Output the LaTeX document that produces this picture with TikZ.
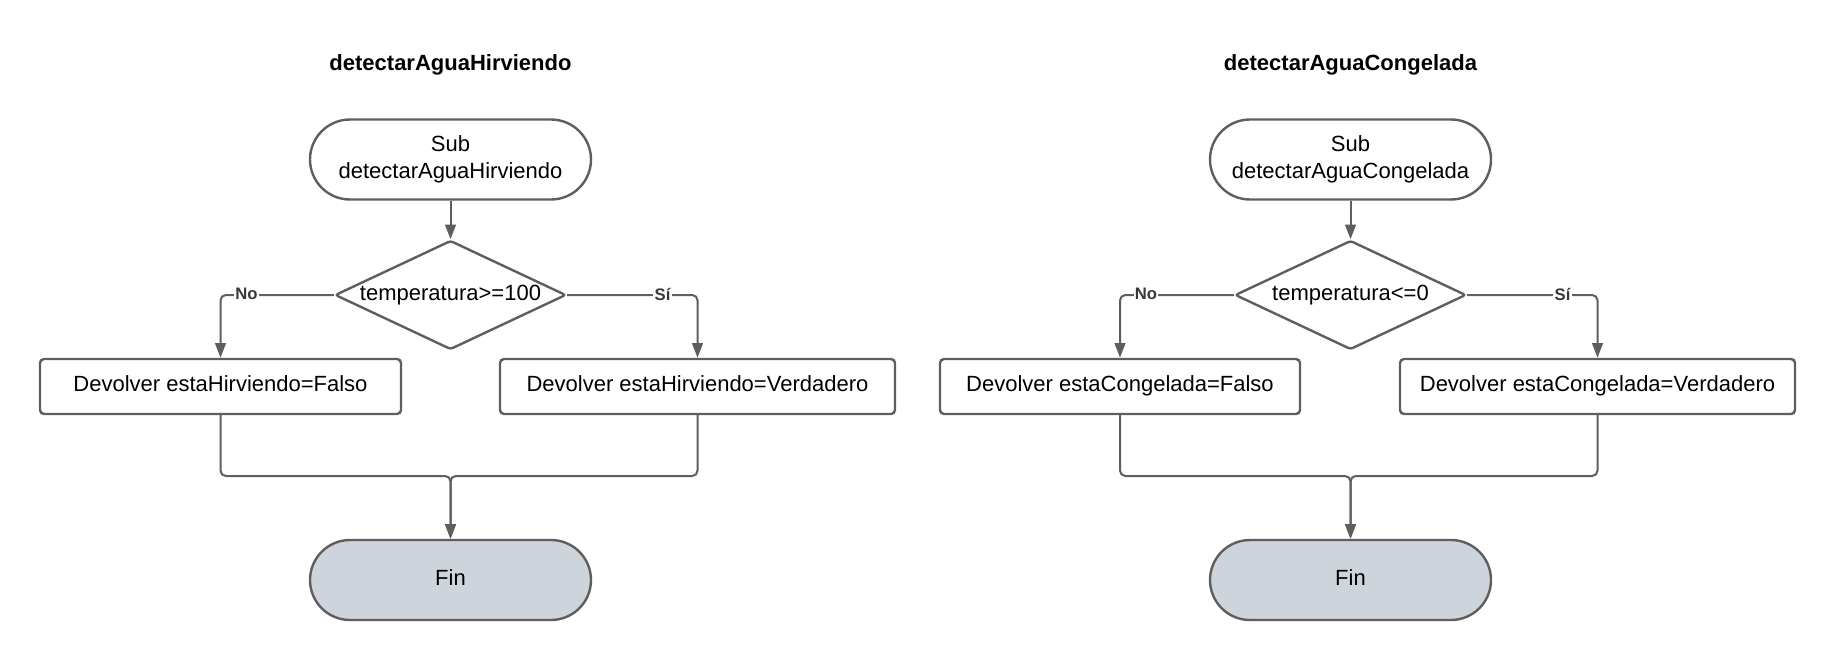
\documentclass[tikz,border=0pt]{standalone}
\usepackage{fontspec}
\setmainfont{Liberation Sans}
\usetikzlibrary{shapes.geometric,arrows.meta,calc}
\definecolor{stroke}{HTML}{5E5E5E}
\definecolor{finfill}{HTML}{CED4DB}
\begin{document}
\begin{tikzpicture}[x=0.75pt,y=-0.75pt,
  every node/.style={font=\fontsize{16.5}{20}\selectfont, text=black},
  title/.style={font=\fontsize{16.5}{20}\selectfont\bfseries},
  term/.style={draw=stroke, line width=1.8pt, rectangle, rounded corners=30pt,
    minimum width=281*0.75pt, minimum height=80*0.75pt, align=center, inner sep=0pt},
  endterm/.style={term, fill=finfill, text depth=4pt},
  decision/.style={draw=stroke, line width=1.8pt, diamond, aspect=2.1, inner sep=0pt,
    minimum width=231*0.75pt, minimum height=109*0.75pt, rounded corners=2pt},
  process/.style={draw=stroke, line width=1.8pt, rectangle, rounded corners=3pt,
    minimum height=55*0.75pt, inner sep=0pt, text depth=4pt},
  conn/.style={draw=stroke, line width=1.5pt, rounded corners=4pt,
    -{Triangle[length=11pt,width=8pt]}},
  lbl/.style={font=\fontsize{12.5}{14}\selectfont\bfseries, fill=white,
    inner sep=1pt, text=stroke!60!black}
]
\useasboundingbox (0,0) rectangle (1835,660);

% ---------- detectarAguaHirviendo ----------
\node[title] (tA) at (450.5,65) {detectarAguaHirviendo};
\node[term] (sA) at (450.5,159.5) {Sub\\detectarAguaHirviendo};
\node[decision] (dA) at (450.5,295) {temperatura>=100};
\node[process, minimum width=361*0.75pt] (fA) at (220.5,386.5) {Devolver estaHirviendo=Falso};
\node[process, minimum width=395*0.75pt] (vA) at (697.5,386.5) {Devolver estaHirviendo=Verdadero};
\node[endterm] (eA) at (450.5,580) {Fin};
\coordinate (jA) at (450.5,476);

\draw[conn] (sA.south) -- (dA.north);
\draw[conn] (dA.west) -| (fA.north);
\draw[conn] (dA.east) -| (vA.north);
\draw[conn] (fA.south) |- (jA) -- (eA.north);
\draw[conn] (vA.south) |- (jA) -- (eA.north);
\node[lbl] (nA) at ($(fA.north |- dA.west)+(26,-1)$) {No};
\node[lbl] (yA) at ($(vA.north |- dA.west)+(-35,-1)$) {Sí};

% ---------- detectarAguaCongelada ----------
\node[title] (tB) at (1350.5,65) {detectarAguaCongelada};
\node[term] (sB) at (1350.5,159.5) {Sub\\detectarAguaCongelada};
\node[decision] (dB) at (1350.5,295) {temperatura<=0};
\node[process, minimum width=360*0.75pt] (fB) at (1120,386.5) {Devolver estaCongelada=Falso};
\node[process, minimum width=395*0.75pt] (vB) at (1597.5,386.5) {Devolver estaCongelada=Verdadero};
\node[endterm] (eB) at (1350.5,580) {Fin};
\coordinate (jB) at (1350.5,476);

\draw[conn] (sB.south) -- (dB.north);
\draw[conn] (dB.west) -| (fB.north);
\draw[conn] (dB.east) -| (vB.north);
\draw[conn] (fB.south) |- (jB) -- (eB.north);
\draw[conn] (vB.south) |- (jB) -- (eB.north);
\node[lbl] (nB) at ($(fB.north |- dB.west)+(26,-1)$) {No};
\node[lbl] (yB) at ($(vB.north |- dB.west)+(-35,-1)$) {Sí};
\end{tikzpicture}
\end{document}
